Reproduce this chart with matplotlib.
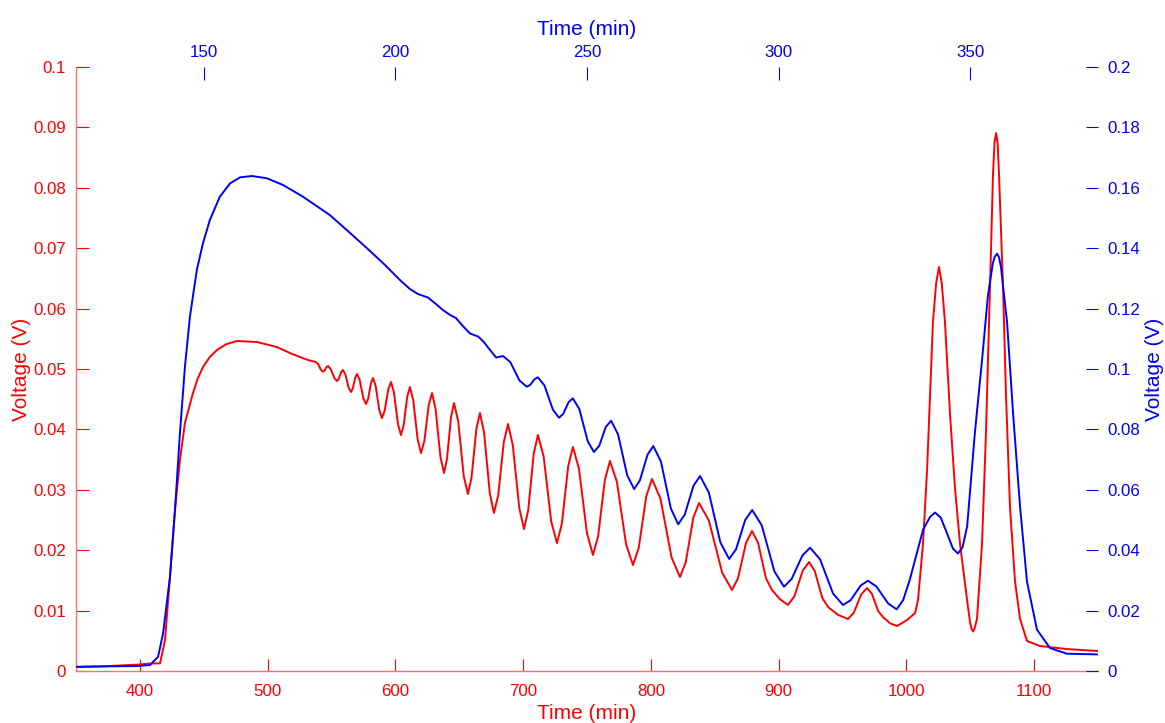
import matplotlib
matplotlib.use("Agg")
import matplotlib.pyplot as plt

plt.rcParams['font.family'] = ['Liberation Sans', 'DejaVu Sans']

# red trace: (time on bottom axis [min], voltage on left axis [V])
red_points = [
    (350.0, 0.00066), (368.8, 0.00075), (400.0, 0.00108), (407.9, 0.00124), (415.8, 0.00127),
    (419.7, 0.00513), (423.6, 0.01556), (427.5, 0.02666), (431.4, 0.03493), (435.3, 0.04106),
    (441.6, 0.04603), (445.3, 0.04840), (449.4, 0.05033), (454.8, 0.05200), (460.4, 0.05315),
    (467.5, 0.05410), (476.0, 0.05464), (491.7, 0.05447), (507.3, 0.05364), (517.5, 0.05265),
    (525.3, 0.05199), (531.6, 0.05149), (537.9, 0.05116), (539.5, 0.05084), (541.7, 0.04987),
    (543.3, 0.04955), (544.5, 0.04974), (546.1, 0.05031), (547.3, 0.05050), (549.4, 0.05000),
    (552.2, 0.04851), (554.3, 0.04801), (555.7, 0.04837), (557.6, 0.04947), (559.0, 0.04983),
    (560.9, 0.04910), (563.4, 0.04692), (565.3, 0.04619), (566.7, 0.04679), (568.6, 0.04857),
    (570.0, 0.04917), (572.1, 0.04818), (574.9, 0.04520), (577.0, 0.04421), (578.7, 0.04507),
    (580.9, 0.04765), (582.5, 0.04851), (584.6, 0.04719), (587.4, 0.04321), (589.5, 0.04189),
    (591.6, 0.04308), (594.5, 0.04666), (596.6, 0.04785), (598.9, 0.04609), (602.1, 0.04083),
    (604.4, 0.03907), (606.5, 0.04066), (609.3, 0.04543), (611.4, 0.04702), (614.0, 0.04483),
    (617.5, 0.03828), (620.1, 0.03609), (622.7, 0.03808), (626.1, 0.04404), (628.7, 0.04603),
    (631.5, 0.04338), (635.3, 0.03543), (638.1, 0.03278), (640.4, 0.03510), (643.6, 0.04205),
    (645.9, 0.04437), (649.2, 0.04136), (653.5, 0.03231), (656.8, 0.02930), (659.6, 0.03198),
    (663.4, 0.04004), (666.2, 0.04272), (669.5, 0.03941), (673.9, 0.02947), (677.2, 0.02616),
    (680.5, 0.02911), (684.9, 0.03794), (688.2, 0.04089), (691.9, 0.03741), (697.0, 0.02699),
    (700.7, 0.02351), (704.0, 0.02662), (708.3, 0.03596), (711.6, 0.03907), (716.1, 0.03549),
    (722.0, 0.02477), (726.5, 0.02119), (730.3, 0.02437), (735.3, 0.03391), (739.0, 0.03709),
    (743.7, 0.03351), (750.0, 0.02279), (754.7, 0.01921), (758.7, 0.02232), (764.0, 0.03166),
    (768.0, 0.03477), (773.4, 0.03133), (780.6, 0.02099), (786.0, 0.01755), (790.5, 0.02040),
    (796.4, 0.02894), (800.9, 0.03179), (807.5, 0.02854), (816.2, 0.01881), (822.8, 0.01556),
    (827.3, 0.01801), (833.2, 0.02536), (837.7, 0.02781), (845.4, 0.02493), (855.8, 0.01629),
    (863.5, 0.01341), (868.2, 0.01536), (874.5, 0.02123), (879.2, 0.02318), (883.9, 0.02123),
    (890.1, 0.01536), (894.8, 0.01341), (901.0, 0.01190), (907.3, 0.01093), (912.3, 0.01235),
    (918.9, 0.01663), (923.8, 0.01805), (928.3, 0.01656), (934.2, 0.01209), (938.7, 0.01060),
    (946.5, 0.00930), (954.3, 0.00861), (958.8, 0.00964), (964.7, 0.01271), (969.2, 0.01374),
    (973.0, 0.01278), (978.0, 0.00990), (981.7, 0.00894), (987.2, 0.00790), (992.7, 0.00745),
    (1000.5, 0.00844), (1006.8, 0.00960), (1009.1, 0.01175), (1013.0, 0.02103), (1016.2, 0.03328),
    (1018.5, 0.04553), (1020.8, 0.05778), (1023.3, 0.06420), (1025.5, 0.06689), (1027.7, 0.06420),
    (1030.2, 0.05778), (1034.2, 0.04238), (1038.1, 0.03013), (1042.0, 0.02103), (1047.5, 0.01175),
    (1049.8, 0.00811), (1051.0, 0.00700), (1052.2, 0.00654), (1053.5, 0.00710), (1055.3, 0.00869),
    (1059.2, 0.02103), (1062.3, 0.03940), (1065.5, 0.06391), (1067.8, 0.08228), (1069.0, 0.08750),
    (1070.2, 0.08907), (1071.4, 0.08750), (1072.5, 0.08228), (1075.6, 0.06391), (1078.0, 0.04553),
    (1081.1, 0.02715), (1085.0, 0.01490), (1088.9, 0.00869), (1094.4, 0.00497), (1104.6, 0.00414),
    (1125.7, 0.00364), (1150.0, 0.00331),
]

# blue trace: (time on top axis [min], voltage on right axis [V])
blue_points = [
    (116.7, 0.00142), (132.6, 0.00166), (136.0, 0.00199), (138.1, 0.00474), (139.4, 0.01248),
    (141.2, 0.03123), (142.5, 0.05331), (143.8, 0.07881), (145.1, 0.10076), (146.4, 0.11732),
    (148.2, 0.13278), (149.8, 0.14162), (151.6, 0.14934), (154.2, 0.15705), (156.9, 0.16149),
    (159.5, 0.16348), (162.6, 0.16391), (166.5, 0.16315), (170.7, 0.16093), (175.9, 0.15705),
    (182.9, 0.15099), (188.2, 0.14503), (193.4, 0.13907), (197.3, 0.13444), (201.2, 0.12947),
    (203.8, 0.12649), (205.9, 0.12483), (208.5, 0.12368), (210.6, 0.12152), (212.4, 0.11954),
    (214.3, 0.11788), (215.8, 0.11689), (217.6, 0.11424), (219.5, 0.11175), (221.6, 0.11076),
    (223.1, 0.10894), (224.7, 0.10629), (226.3, 0.10381), (228.1, 0.10430), (230.0, 0.10227),
    (232.4, 0.09617), (234.3, 0.09414), (235.2, 0.09476), (236.3, 0.09663), (237.2, 0.09725),
    (238.9, 0.09457), (241.1, 0.08655), (242.7, 0.08387), (243.8, 0.08516), (245.2, 0.08901),
    (246.3, 0.09030), (248.0, 0.08674), (250.2, 0.07608), (251.8, 0.07252), (253.2, 0.07459),
    (254.9, 0.08081), (256.3, 0.08288), (258.1, 0.07836), (260.5, 0.06478), (262.3, 0.06026),
    (263.8, 0.06311), (265.8, 0.07165), (267.3, 0.07450), (269.3, 0.06932), (271.9, 0.05376),
    (273.8, 0.04858), (275.5, 0.05178), (277.8, 0.06137), (279.5, 0.06457), (281.8, 0.05907),
    (284.8, 0.04259), (287.1, 0.03709), (288.9, 0.04033), (291.3, 0.05007), (293.1, 0.05331),
    (295.6, 0.04823), (298.9, 0.03299), (301.4, 0.02791), (303.4, 0.03049), (306.2, 0.03825),
    (308.2, 0.04083), (310.8, 0.03703), (314.2, 0.02565), (316.8, 0.02185), (318.8, 0.02346),
    (321.4, 0.02829), (323.3, 0.02990), (325.5, 0.02801), (328.6, 0.02233), (330.8, 0.02043),
    (332.5, 0.02350), (334.2, 0.03013), (337.7, 0.04682), (339.5, 0.05100), (340.8, 0.05248),
    (342.3, 0.05080), (343.9, 0.04570), (345.5, 0.04050), (346.8, 0.03891), (348.0, 0.04100),
    (349.2, 0.04801), (351.2, 0.07881), (353.1, 0.10331), (354.6, 0.12417), (355.9, 0.13510),
    (356.4, 0.13720), (357.0, 0.13818), (357.5, 0.13700), (358.0, 0.13387), (359.6, 0.11556),
    (361.2, 0.08477), (363.0, 0.05430), (364.8, 0.02964), (367.4, 0.01371), (370.8, 0.00762),
    (375.2, 0.00573), (383.3, 0.00550),
]

bottom_ticks = [400, 500, 600, 700, 800, 900, 1000, 1100]
top_ticks = [150, 200, 250, 300, 350]
left_ticks = [0, 0.01, 0.02, 0.03, 0.04, 0.05, 0.06, 0.07, 0.08, 0.09, 0.1]
right_ticks = [0, 0.02, 0.04, 0.06, 0.08, 0.1, 0.12, 0.14, 0.16, 0.18, 0.2]

RED = '#ff0000'
BLUE = '#0000ff'

red_time = [p[0] for p in red_points]
red_volt = [p[1] for p in red_points]
blue_time = [p[0] for p in blue_points]
blue_volt = [p[1] for p in blue_points]

fig = plt.figure(figsize=(11.65, 7.23), dpi=100)
rect = [0.0652, 0.0719, 0.8773, 0.8354]

ax = fig.add_axes(rect)
ax.plot(red_time, red_volt, color=RED, lw=1.4, solid_joinstyle='round')
ax.set_xlim(350, 1150)
ax.set_ylim(0, 0.1)
ax.set_xticks(bottom_ticks)
ax.set_yticks(left_ticks)
ax.set_yticklabels([('%g' % v) for v in left_ticks])
ax.tick_params(direction='in', length=9, width=0.8, colors=RED, labelsize=12.2)
ax.tick_params(axis='x', pad=9)
ax.tick_params(axis='y', pad=7)
ax.set_xlabel('Time (min)', color=RED, fontsize=15, labelpad=4)
ax.set_ylabel('Voltage (V)', color=RED, fontsize=15, labelpad=2)
for s in ['top', 'right']:
    ax.spines[s].set_visible(False)
for s in ['left', 'bottom']:
    ax.spines[s].set_color('#ff7070')
    ax.spines[s].set_linewidth(1.0)

ax2 = fig.add_axes(rect, frameon=False)
ax2.plot(blue_time, blue_volt, color=BLUE, lw=1.4, solid_joinstyle='round')
ax2.set_xlim(350 / 3, 1150 / 3)
ax2.set_ylim(0, 0.2)
ax2.xaxis.tick_top()
ax2.xaxis.set_label_position('top')
ax2.yaxis.tick_right()
ax2.yaxis.set_label_position('right')
ax2.set_xticks(top_ticks)
ax2.set_yticks(right_ticks)
ax2.set_yticklabels([('%g' % v) for v in right_ticks])
ax2.tick_params(direction='in', length=9, width=0.8, colors=BLUE, labelsize=12.2)
ax2.tick_params(axis='x', pad=5)
ax2.tick_params(axis='y', pad=7)
ax2.set_xlabel('Time (min)', color=BLUE, fontsize=15, labelpad=7)
ax2.set_ylabel('Voltage (V)', color=BLUE, fontsize=15, labelpad=3)
for s in ['top', 'right']:
    ax2.spines[s].set_visible(True)
    ax2.spines[s].set_color('#7070ff')
    ax2.spines[s].set_linewidth(1.0)
for s in ['left', 'bottom']:
    ax2.spines[s].set_visible(False)

fig.savefig('out.png', dpi=100)
